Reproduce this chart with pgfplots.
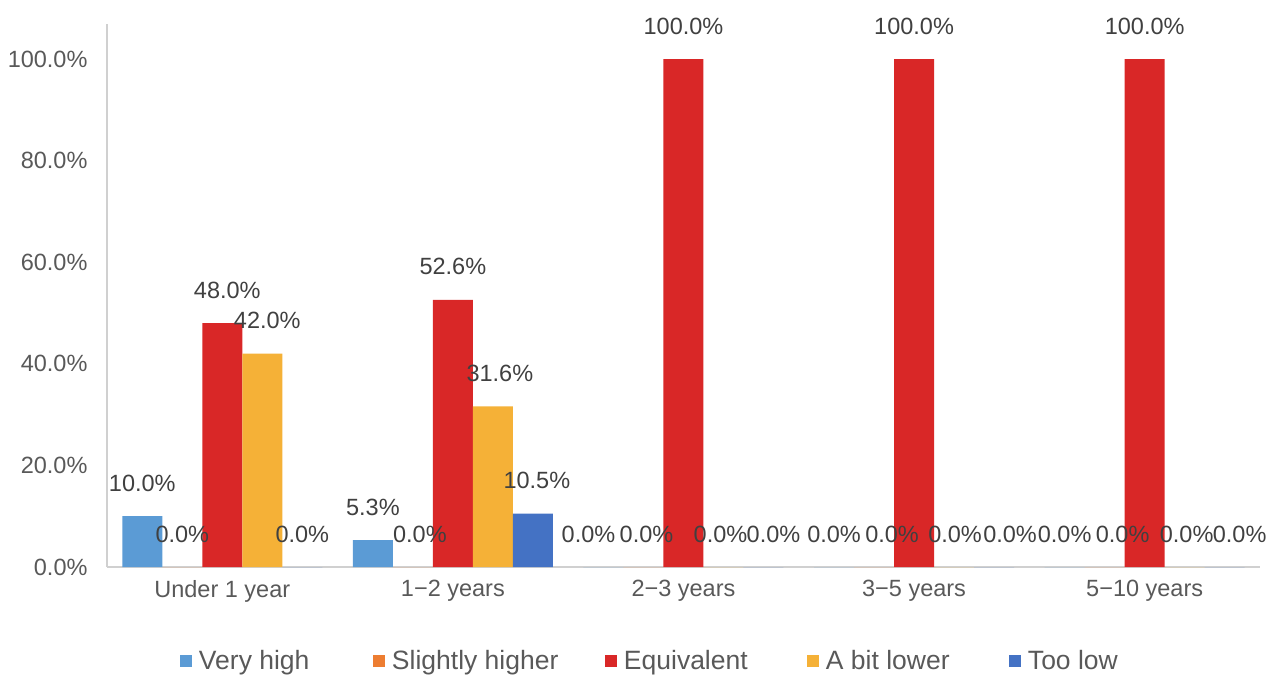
\documentclass[border=0pt]{standalone}
\usepackage{pgfplots}
\pgfplotsset{compat=1.18}
\usepackage{fontspec}
\setmainfont{Liberation Sans}
\definecolor{cVH}{HTML}{5B9BD5}
\definecolor{cSH}{HTML}{ED7D31}
\definecolor{cEQ}{HTML}{D92727}
\definecolor{cBL}{HTML}{F5B137}
\definecolor{cTL}{HTML}{4472C4}
\definecolor{txt}{HTML}{595959}
\definecolor{lbl}{HTML}{404040}
\definecolor{axl}{HTML}{D0D0D0}
\begin{document}
\begin{tikzpicture}
\path[use as bounding box] (-107pt,-108pt) rectangle (1174pt,567pt);
\begin{axis}[
  scale only axis,
  width=1153pt, height=543pt,
  at={(0pt,0pt)}, anchor=south west,
  xmin=-0.5, xmax=4.5,
  ymin=0, ymax=106.9,
  clip=false,
  ybar=0pt, bar width=40pt,
  axis x line=bottom, axis y line=left,
  axis line style={-, draw=axl, line width=2pt},
  major tick length=0pt,
  xtick={0,1,2,3,4},
  xticklabels={Under 1 year, 1−2 years, 2−3 years, 3−5 years, 5−10 years},
  ytick={0,20,40,60,80,100},
  yticklabels={0.0\%,20.0\%,40.0\%,60.0\%,80.0\%,100.0\%},
  tick label style={font=\fontsize{23.5}{27}\selectfont, text=txt},
  yticklabel style={anchor=east, xshift=-16pt},
  xticklabel style={anchor=north, yshift=-10pt},
  /pgf/number format/assume math mode=true,
  visualization depends on={value \thisrow{dx} \as \dx},
  nodes near coords={\pgfmathprintnumber[fixed,fixed zerofill,precision=1]{\pgfplotspointmeta}\%},
  every node near coord/.append style={font=\fontsize{23.5}{27}\selectfont, text=lbl, anchor=base, yshift=25pt, xshift=\dx pt},
  legend style={at={(0.0633,-0.1731)}, anchor=west, draw=none, fill=none,
    inner sep=0pt, outer sep=0pt,
    legend columns=-1, font=\fontsize{26.5}{30}\selectfont, text=txt,
    nodes={inner sep=0pt},
    /tikz/every odd column/.append style={column sep=7pt},
    /tikz/every even column/.append style={column sep=0pt}},
  legend cell align=left,
  legend image code/.code={\path[#1,draw=none] (0pt,-6pt) rectangle (12pt,6pt);},
]
\addplot[fill=cVH, draw=none] table[x=x,y=y] {
x y dx
0 10.0 0
1 5.3 0
2 0 -15
3 0 0
4 0 0
};
\addplot[fill=cSH, draw=none] table[x=x,y=y] {
x y dx
0 0 0
1 0 7
2 0 3
3 0 18
4 0 18
};
\addplot[fill=cEQ, draw=none] table[x=x,y=y] {
x y dx
0 48.0 5
1 52.6 0
2 100 0
3 100 0
4 100 0
};
\addplot[fill=cBL, draw=none] table[x=x,y=y] {
x y dx
0 42.0 5
1 31.6 7
2 0 -3
3 0 1
4 0 2
};
\addplot[fill=cTL, draw=none] table[x=x,y=y] {
x y dx
0 0 0
1 10.5 4
2 0 10
3 0 16
4 0 15
};
\legend{\makebox[174pt][l]{Very high}, \makebox[213pt][l]{Slightly higher}, \makebox[183pt][l]{Equivalent}, \makebox[183pt][l]{A bit lower}, Too low}
\end{axis}
\end{tikzpicture}
\end{document}
